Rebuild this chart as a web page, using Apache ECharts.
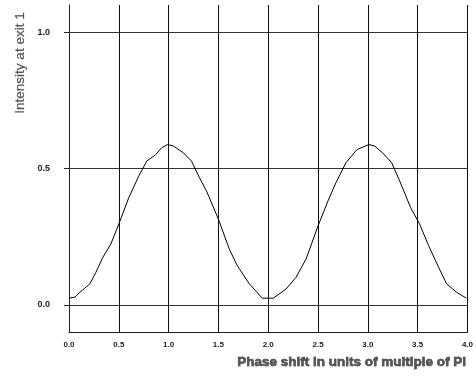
<!DOCTYPE html>
<html>
<head>
<meta charset="utf-8">
<script src="https://cdn.jsdelivr.net/npm/echarts@6/dist/echarts.min.js"></script>
<style>html,body{margin:0;padding:0;background:#fff}#c{width:476px;height:378px}</style>
</head>
<body>
<div id="c"></div>
<script>
const xValues = [0.00,0.06,0.11,0.21,0.27,0.34,0.42,0.50,0.60,0.70,0.78,0.87,0.93,0.99,1.05,1.15,1.23,1.31,1.38,1.50,1.61,1.69,1.81,1.94,2.05,2.18,2.28,2.38,2.50,2.60,2.68,2.78,2.89,3.01,3.07,3.15,3.24,3.32,3.43,3.52,3.61,3.71,3.79,3.89,3.99];
const yValues = [0.024,0.028,0.046,0.077,0.119,0.174,0.223,0.296,0.393,0.472,0.527,0.551,0.576,0.588,0.582,0.557,0.527,0.466,0.418,0.314,0.204,0.143,0.077,0.024,0.024,0.058,0.101,0.168,0.289,0.381,0.448,0.521,0.569,0.588,0.582,0.557,0.521,0.454,0.356,0.296,0.217,0.138,0.077,0.046,0.024];
const yTicks = [0, 0.5, 1.0];
const xTitle = 'Phase shift in units of multiple of PI';
const yTitle = 'Intensity at exit 1';

const chart = echarts.init(document.getElementById('c'), null, {renderer:'canvas'});
chart.setOption({
  animation: false,
  backgroundColor: '#fff',
  grid: {left: 69, right: 2, top: 5, bottom: 46, containLabel: false},
  xAxis: {
    type: 'value', min: 0, max: 4, interval: 0.5,
    axisLine: {show: true, onZero: false, lineStyle: {color: '#222', width: 1}},
    axisTick: {show: false},
    splitLine: {show: true, lineStyle: {color: '#111', width: 1}},
    axisLabel: {color: '#222', fontSize: 8, fontWeight: 'bold', fontFamily: 'Liberation Sans', margin: 9,
      formatter: v => v.toFixed(1)}
  },
  yAxis: {
    type: 'value', min: -0.1, max: 1.1,
    axisLine: {show: true, onZero: false, lineStyle: {color: '#222', width: 1}},
    axisTick: {show: true, length: 5, customValues: yTicks, lineStyle: {color: '#222'}},
    splitLine: {show: true, lineStyle: {color: '#333', width: 1}},
    axisLabel: {customValues: yTicks, color: '#222', fontSize: 9, fontWeight: 'bold', fontFamily: 'Liberation Sans', margin: 19,
      formatter: v => v.toFixed(1)}
  },
  series: [{
    type: 'line',
    data: xValues.map((x, i) => [x, yValues[i]]),
    showSymbol: false,
    smooth: false,
    lineStyle: {color: '#000', width: 1}
  }],
  graphic: [
    {type: 'text', left: 237, top: 355,
      style: {text: xTitle, fill: '#555', stroke: '#000', lineWidth: 0.5, font: 'bold 13.5px "Liberation Sans"'}},
    {type: 'text', x: 20, y: 63, rotation: Math.PI/2,
      style: {text: yTitle, fill: '#555', stroke: '#444', lineWidth: 0.2, font: '13.5px "Liberation Sans"', align: 'center', verticalAlign: 'middle'}}
  ]
});
</script>
</body>
</html>
